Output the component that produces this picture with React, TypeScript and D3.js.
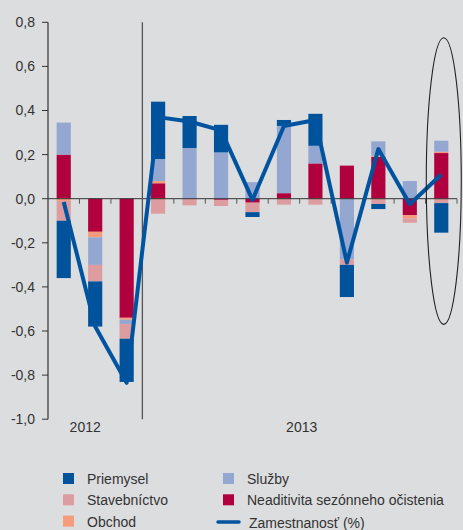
import React from 'react';
import * as d3 from 'd3';

// months Oct 2012 - Oct 2013
const periods = ['10/12', '11/12', '12/12', '1/13', '2/13', '3/13', '4/13', '5/13', '6/13', '7/13', '8/13', '9/13', '10/13'];
const priemysel = [-0.26, -0.205, -0.196, 0.26, 0.145, 0.125, -0.022, 0.027, 0.145, -0.146, -0.023, 0, -0.134];
const stavebnictvo = [-0.09, -0.075, -0.067, -0.068, -0.03, -0.028, -0.043, -0.027, -0.027, -0.025, -0.024, -0.02, -0.02];
const obchod = [-0.01, -0.025, -0.009, 0.01, 0, 0, 0, 0, 0, 0, 0.005, -0.015, 0.006];
const sluzby = [0.145, -0.125, -0.019, 0.1, 0.23, 0.21, 0.075, 0.305, 0.08, -0.275, 0.065, 0.08, 0.05];
const neaditivita = [0.2, -0.15, -0.54, 0.07, 0, -0.005, -0.018, 0.025, 0.16, 0.15, 0.19, -0.074, 0.207];
const zamestnanost = [-0.015, -0.58, -0.835, 0.37, 0.35, 0.31, -0.005, 0.33, 0.357, -0.29, 0.225, -0.025, 0.11];
const yTicks = [-1.0, -0.8, -0.6, -0.4, -0.2, 0, 0.2, 0.4, 0.6, 0.8];
const years = ['2012', '2013'];

const series = [
  { key: 'neaditivita', label: 'Neaditivita sezónneho očistenia', values: neaditivita, color: '#b0003e' },
  { key: 'obchod', label: 'Obchod', values: obchod, color: '#f69b7b' },
  { key: 'sluzby', label: 'Služby', values: sluzby, color: '#93a7d1' },
  { key: 'stavebnictvo', label: 'Stavebníctvo', values: stavebnictvo, color: '#dd9c9f' },
  { key: 'priemysel', label: 'Priemysel', values: priemysel, color: '#00529b' },
];
const lineColor = '#00539e';

const W = 463, H = 530;
const margin = { top: 22.3, left: 48, right: 6, bottom: 110.8 };
const font = '"Liberation Sans", Arial, sans-serif';

const locale = d3.formatLocale({ decimal: ',', thousands: ' ', grouping: [3], currency: ['', ''], minus: '-' });
const fmt = locale.format('.1f');

export default function App() {
  const x = d3
    .scaleBand<string>()
    .domain(periods)
    .range([margin.left, W - margin.right])
    .paddingInner(0.55)
    .paddingOuter(0.275);
  const y = d3.scaleLinear().domain([-1, 0.8]).range([H - margin.bottom, margin.top]);
  const step = x.step();
  const bw = x.bandwidth();
  const edge = (p: string) => (x(p) as number) - (step * 0.55) / 2;

  const rows = periods.map((p, i) => {
    const r: any = { period: p };
    series.forEach((s) => (r[s.key] = s.values[i]));
    return r;
  });
  const stacked = d3
    .stack<any>()
    .keys(series.map((s) => s.key))
    .offset(d3.stackOffsetDiverging)
    .order(d3.stackOrderNone)(rows);

  const line = d3
    .line<number>()
    .x((_, i) => (x(periods[i]) as number) + bw / 2)
    .y((d) => y(d));

  const sep = edge(periods[3]);
  const last = periods[periods.length - 1];

  const legendItems = [
    { label: 'Priemysel', color: '#00529b', col: 0, row: 0 },
    { label: 'Stavebníctvo', color: '#dd9c9f', col: 0, row: 1 },
    { label: 'Obchod', color: '#f69b7b', col: 0, row: 2 },
    { label: 'Služby', color: '#93a7d1', col: 1, row: 0 },
    { label: 'Neaditivita sezónneho očistenia', color: '#b0003e', col: 1, row: 1 },
  ];

  return (
    <svg width={W} height={H} style={{ position: 'absolute', left: 0, top: 0, background: '#dcdddf' }} fontFamily={font}>
      <rect width={W} height={H} fill="#dcdddf" />
      {/* bars */}
      {stacked.map((s, si) => (
        <g key={s.key} fill={series[si].color}>
          {s.map((d, i) =>
            d[1] - d[0] === 0 ? null : (
              <rect key={i} x={x(periods[i])} width={bw} y={y(d[1])} height={Math.abs(y(d[0]) - y(d[1]))} />
            )
          )}
        </g>
      ))}
      {/* x axis at zero */}
      <line x1={margin.left} x2={edge(last) + step} y1={y(0)} y2={y(0)} stroke="#333" strokeWidth={1} />
      {periods.map((p, i) =>
        i === 0 || i === 3 ? null : (
          <line key={p} x1={edge(p)} x2={edge(p)} y1={y(0)} y2={y(0) + 5} stroke="#555" strokeWidth={1} />
        )
      )}
      <line x1={edge(last) + step} x2={edge(last) + step} y1={y(0)} y2={y(0) + 5} stroke="#555" strokeWidth={1} />
      {/* year separator */}
      <line x1={sep} x2={sep} y1={y(0.8)} y2={y(-1)} stroke="#555" strokeWidth={1.3} />
      {/* y axis */}
      <line x1={margin.left} x2={margin.left} y1={y(0.8)} y2={y(-1)} stroke="#333" strokeWidth={1.2} />
      {yTicks.map((t) => (
        <g key={t} transform={`translate(0,${y(t)})`}>
          <line x1={margin.left - 6} x2={margin.left} stroke="#333" strokeWidth={1} />
          <text x={margin.left - 13} dy="0.35em" textAnchor="end" fontSize={14} fill="#333">
            {fmt(t)}
          </text>
        </g>
      ))}
      {/* years */}
      <text x={(x(periods[1]) as number) + bw / 2 - 10} y={y(-1) + 13} textAnchor="middle" fontSize={14} fill="#333">
        {years[0]}
      </text>
      <text x={(sep + edge(last) + step) / 2 + 2} y={y(-1) + 13} textAnchor="middle" fontSize={14} fill="#333">
        {years[1]}
      </text>
      {/* employment line */}
      <path d={line(zamestnanost) || ''} fill="none" stroke={lineColor} strokeWidth={4} strokeLinejoin="round" />
      {/* highlight ellipse */}
      <ellipse
        cx={(x(last) as number) + bw / 2 + 2.5}
        cy={(y(0.73) + y(-0.57)) / 2}
        rx={17.5}
        ry={(y(-0.57) - y(0.73)) / 2}
        fill="none"
        stroke="#222"
        strokeWidth={1.1}
      />
      {/* legend */}
      {legendItems.map((l) => (
        <g key={l.label} transform={`translate(${l.col ? 223 : 63},${473 + l.row * 21.3})`}>
          <rect width={11} height={11} fill={l.color} />
          <text x={24} y={11} fontSize={14} fill="#333">
            {l.label}
          </text>
        </g>
      ))}
      <line x1={218} x2={239} y1={522} y2={522} stroke={lineColor} strokeWidth={3.5} strokeLinecap="round" />
      <text x={249} y={527.5} fontSize={14} fill="#333">
        Zamestnanosť (%)
      </text>
    </svg>
  );
}
